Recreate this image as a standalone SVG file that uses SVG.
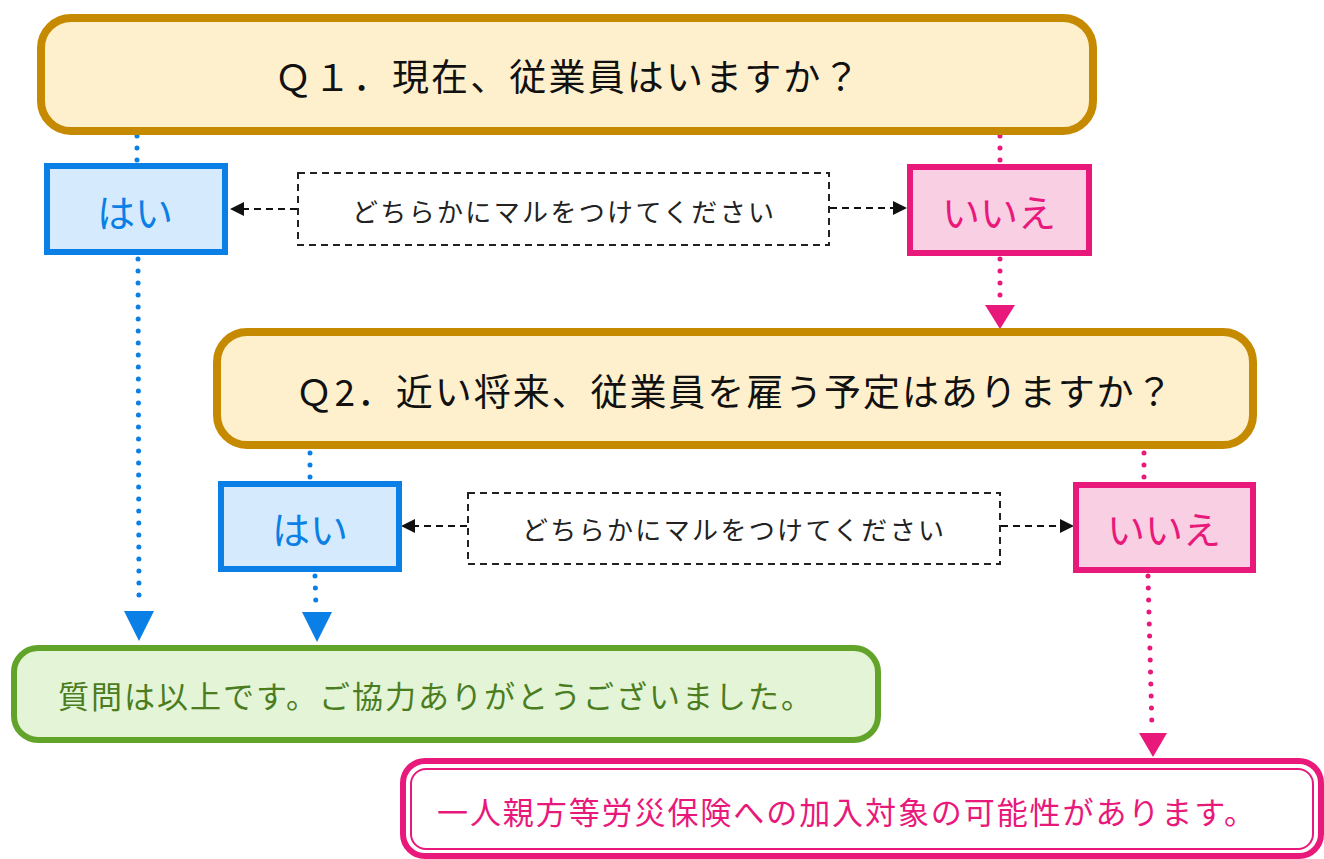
<svg xmlns="http://www.w3.org/2000/svg" width="1324" height="859" viewBox="0 0 1324 859">
<style>
text{font-family:"Noto Sans CJK JP","Noto Sans",sans-serif;dominant-baseline:central;text-anchor:middle}
.q{fill:#fff0cd;stroke:#c68a00;stroke-width:8}
.qt{font-size:37px;fill:#111}
.yes{fill:#d5eafd;stroke:#0a7fe6;stroke-width:6}
.yt{font-size:38px;fill:#0a7fe6}
.no{fill:#f9cfe3;stroke:#e8197b;stroke-width:6}
.nt{font-size:38px;fill:#e8197b}
.hint{fill:#fff;stroke:#222;stroke-width:2;stroke-dasharray:7 5}
.ht{font-size:26px;fill:#222}
.dotb{stroke:#0a7fe6;stroke-width:5;stroke-linecap:round;stroke-dasharray:0 12;fill:none}
.dotp{stroke:#e8197b;stroke-width:5;stroke-linecap:round;stroke-dasharray:0 12;fill:none}
.dash{stroke:#111;stroke-width:2.2;stroke-dasharray:7 5;fill:none}
</style>

<g id="connectors">
<line class="dotb" x1="137" y1="136" x2="137" y2="162"/>
<line class="dotp" x1="1000" y1="136" x2="1000" y2="162"/>
<line class="dotb" x1="138" y1="259" x2="139" y2="606"/>
<polygon points="124,611 154,611 139,641" fill="#0a7fe6"/>
<line class="dotp" x1="1000" y1="259" x2="1000" y2="300"/>
<polygon points="985,305 1015,305 1000,329" fill="#e8197b"/>
<line class="dotb" x1="310" y1="453" x2="310" y2="478"/>
<line class="dotp" x1="1144" y1="453" x2="1144" y2="478"/>
<line class="dotb" x1="315" y1="576" x2="316" y2="608"/>
<polygon points="302,612 332,612 317,642" fill="#0a7fe6"/>
<line class="dotp" x1="1148" y1="576" x2="1152" y2="729"/>
<polygon points="1139,733 1167,733 1153,757" fill="#e8197b"/>
<line class="dash" x1="297" y1="209" x2="241" y2="209"/>
<polygon points="230,209 244,202 244,216" fill="#111"/>
<line class="dash" x1="830" y1="208" x2="895" y2="208"/>
<polygon points="907,208 893,201 893,215" fill="#111"/>
<line class="dash" x1="467" y1="526" x2="413" y2="526"/>
<polygon points="401,526 415,519 415,533" fill="#111"/>
<line class="dash" x1="1001" y1="526" x2="1062" y2="526"/>
<polygon points="1074,526 1060,519 1060,533" fill="#111"/>
</g>

<g id="q1">
<rect class="q" x="41" y="18" width="1052" height="113" rx="30"/>
<text class="qt" x="567" y="75" textLength="585" lengthAdjust="spacing">Ｑ１．現在、従業員はいますか？</text>
</g>

<g id="yes1">
<rect class="yes" x="47" y="166" width="178" height="86"/>
<text class="yt" x="135" y="210">はい</text>
</g>

<g id="hint1">
<rect class="hint" x="298" y="173" width="531" height="72"/>
<text class="ht" x="563" y="210" textLength="422" lengthAdjust="spacing">どちらかにマルをつけてください</text>
</g>

<g id="no1">
<rect class="no" x="910" y="167" width="179" height="86"/>
<text class="nt" x="999" y="210">いいえ</text>
</g>

<g id="q2">
<rect class="q" x="217" y="332" width="1036" height="113" rx="30"/>
<text class="qt" x="734" y="390" textLength="877" lengthAdjust="spacing">Ｑ2．近い将来、従業員を雇う予定はありますか？</text>
</g>

<g id="yes2">
<rect class="yes" x="221" y="484" width="178" height="85"/>
<text class="yt" x="310" y="527">はい</text>
</g>

<g id="hint2">
<rect class="hint" x="468" y="493" width="532" height="71"/>
<text class="ht" x="733" y="528" textLength="422" lengthAdjust="spacing">どちらかにマルをつけてください</text>
</g>

<g id="no2">
<rect class="no" x="1076" y="485" width="177" height="85"/>
<text class="nt" x="1164" y="527">いいえ</text>
</g>

<g id="end">
<rect x="14" y="648" width="864" height="92" rx="24" fill="#e3f4d7" stroke="#62a32a" stroke-width="6"/>
<text x="435" y="694" font-size="31" fill="#4b7d1f" textLength="754" lengthAdjust="spacing">質問は以上です。ご協力ありがとうございました。</text>
</g>

<g id="result">
<rect x="403" y="761" width="918" height="95" rx="22" fill="#fff" stroke="#e8197b" stroke-width="6"/>
<rect x="411" y="769" width="902" height="80" rx="15" fill="none" stroke="#e8197b" stroke-width="2"/>
<text x="846" y="810" font-size="31" fill="#e8197b" textLength="818" lengthAdjust="spacing">一人親方等労災保険への加入対象の可能性があります。</text>
</g>
</svg>
